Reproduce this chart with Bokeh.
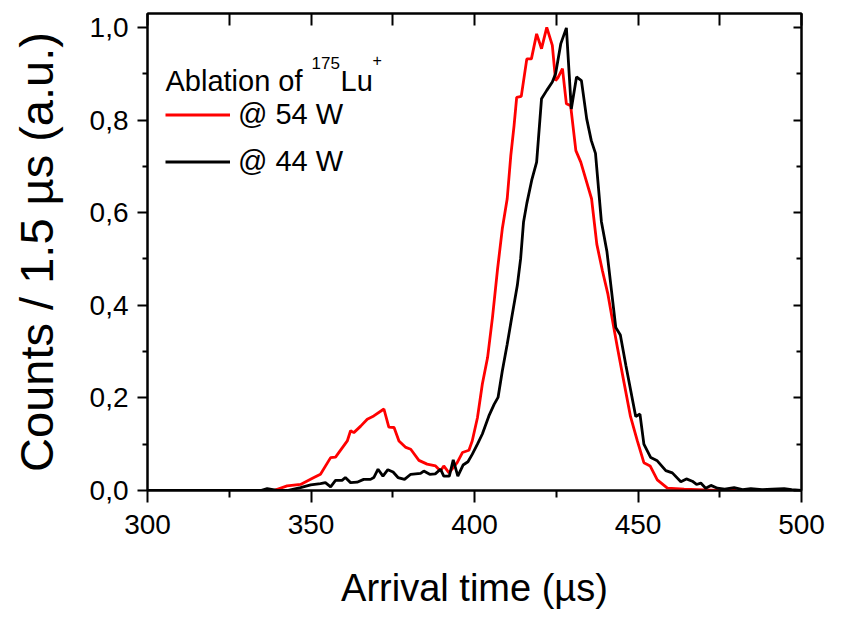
from bokeh.plotting import figure
from bokeh.models import (Range1d, LinearAxis, FixedTicker, CustomJSTickFormatter,
                          Legend, LegendItem, Label)
from bokeh.embed import file_html
from bokeh.resources import INLINE

# ---- data ----
x_54w = [300.0, 338.6, 342.7, 346.8, 350.9, 352.9, 356.0, 357.5, 361.1, 362.1, 363.1,
         365.2, 367.2, 369.2, 372.3, 373.8, 375.4, 376.9, 379.0, 380.5, 383.0, 385.5,
         388.1, 389.6, 390.6, 392.2, 394.7, 396.3, 398.3, 399.3, 400.9, 402.4, 404.0,
         405.5, 407.0, 408.5, 410.0, 411.1, 412.1, 412.9, 414.3, 416.0, 417.4, 419.0,
         420.5, 422.1, 423.8, 424.8, 425.5, 426.9, 428.1, 429.4, 431.0, 432.5, 435.8,
         437.4, 439.1, 440.8, 442.5, 443.7, 445.7, 447.7, 449.8, 451.8, 453.7, 455.9,
         459.0, 464.1, 474.3, 480.0]
y_54w = [0.0, 0.0, 0.010, 0.013, 0.028, 0.035, 0.071, 0.072, 0.107, 0.129, 0.125,
         0.139, 0.154, 0.161, 0.176, 0.137, 0.136, 0.107, 0.093, 0.089, 0.065, 0.057,
         0.053, 0.042, 0.053, 0.038, 0.060, 0.082, 0.087, 0.107, 0.157, 0.230, 0.287,
         0.374, 0.475, 0.565, 0.630, 0.723, 0.788, 0.849, 0.851, 0.932, 0.932, 0.986,
         0.954, 1.000, 0.961, 0.885, 0.891, 0.911, 0.835, 0.831, 0.734, 0.709, 0.630,
         0.532, 0.475, 0.424, 0.356, 0.309, 0.234, 0.160, 0.107, 0.060, 0.053, 0.023,
         0.005, 0.003, 0.0, 0.0]

x_44w = [300.0, 334.6, 336.6, 339.7, 342.7, 346.8, 349.9, 352.9, 354.4, 356.0, 357.5,
         359.5, 360.5, 362.1, 364.1, 366.1, 368.2, 369.2, 370.5, 372.0, 373.5, 375.1,
         376.6, 378.6, 380.5, 383.5, 384.5, 386.3, 388.0, 389.6, 390.6, 392.3, 393.5,
         394.9, 396.5, 398.0, 399.3, 400.9, 402.4, 404.4, 406.0, 407.2, 408.5, 410.0,
         411.4, 413.1, 414.1, 415.0, 416.0, 417.5, 419.0, 420.5, 422.1, 423.8, 424.8,
         426.4, 428.1, 429.6, 431.2, 432.7, 434.3, 435.7, 437.0, 438.8, 440.5, 441.9,
         443.2, 444.6, 446.3, 447.8, 449.3, 450.6, 451.8, 453.9, 455.9, 458.5, 460.5,
         463.1, 464.8, 466.6, 467.9, 469.2, 470.7, 472.3, 474.3, 476.5, 479.4, 482.0,
         484.5, 488.0, 491.0, 494.7, 497.0, 500.0]
y_44w = [0.0, 0.0, 0.004, 0.0, 0.0, 0.006, 0.012, 0.015, 0.017, 0.008, 0.022,
         0.022, 0.028, 0.017, 0.018, 0.024, 0.024, 0.028, 0.046, 0.031, 0.045, 0.040,
         0.028, 0.024, 0.035, 0.037, 0.042, 0.035, 0.036, 0.046, 0.031, 0.031, 0.066,
         0.031, 0.055, 0.062, 0.078, 0.100, 0.122, 0.161, 0.186, 0.201, 0.258, 0.316,
         0.374, 0.443, 0.500, 0.580, 0.620, 0.670, 0.709, 0.846, 0.864, 0.882, 0.900,
         0.965, 0.999, 0.824, 0.893, 0.885, 0.803, 0.756, 0.728, 0.581, 0.516, 0.431,
         0.352, 0.336, 0.270, 0.215, 0.160, 0.165, 0.100, 0.071, 0.064, 0.043, 0.038,
         0.019, 0.025, 0.020, 0.013, 0.016, 0.005, 0.011, 0.005, 0.003, 0.006, 0.002,
         0.004, 0.002, 0.003, 0.004, 0.002, 0.0]

x_ticks = [300, 350, 400, 450, 500]
x_minor = [325, 375, 425, 475]
y_ticks = [0.0, 0.2, 0.4, 0.6, 0.8, 1.0]
y_minor = [0.1, 0.3, 0.5, 0.7, 0.9]
labels = ["@ 54 W", "@ 44 W"]

SANS = "Liberation Sans"

p = figure(width=841, height=622, output_backend="svg", toolbar_location=None,
           x_range=Range1d(300, 500), y_range=Range1d(0, 1.03),
           min_border_left=147, min_border_right=40, min_border_top=13,
           min_border_bottom=132, x_axis_location=None, y_axis_location=None)
p.grid.visible = False
p.outline_line_color = "black"
p.outline_line_width = 2
p.background_fill_color = "white"
p.border_fill_color = "white"

r54 = p.line(x_54w, y_54w, line_color="#ff0000", line_width=2.8)
r44 = p.line(x_44w, y_44w, line_color="black", line_width=2.8)

fmt = CustomJSTickFormatter(code="return tick.toFixed(1).replace('.', ',');")
blank = CustomJSTickFormatter(code="return '';")

xb = LinearAxis(ticker=FixedTicker(ticks=x_ticks, minor_ticks=x_minor),
                axis_label="Arrival time (µs)")
yl = LinearAxis(ticker=FixedTicker(ticks=y_ticks, minor_ticks=y_minor),
                formatter=fmt, axis_label="Counts / 1.5 µs (a.u.)")
xt = LinearAxis(ticker=FixedTicker(ticks=x_ticks, minor_ticks=x_minor), formatter=blank)
yr = LinearAxis(ticker=FixedTicker(ticks=y_ticks, minor_ticks=y_minor), formatter=blank)

for ax in (xb, yl, xt, yr):
    ax.axis_line_width = 2
    ax.major_tick_line_width = 2
    ax.minor_tick_line_width = 2
    ax.axis_line_color = "black"
    ax.major_tick_line_color = "black"
    ax.minor_tick_line_color = "black"

xb.major_tick_in, xb.major_tick_out = 0, 12
xb.minor_tick_in, xb.minor_tick_out = 0, 7
xb.major_label_text_font = SANS
xb.major_label_text_font_size = "28px"
xb.major_label_text_color = "black"
xb.major_label_standoff = 12
xb.axis_label_text_font = SANS
xb.axis_label_text_font_size = "38px"
xb.axis_label_text_font_style = "normal"
xb.axis_label_text_color = "black"
xb.axis_label_standoff = 30

yl.major_tick_in, yl.major_tick_out = 0, 10
yl.minor_tick_in, yl.minor_tick_out = 0, 5
yl.major_label_text_font = SANS
yl.major_label_text_font_size = "28px"
yl.major_label_text_color = "black"
yl.major_label_standoff = 9
yl.axis_label_text_font = SANS
yl.axis_label_text_font_size = "47px"
yl.axis_label_text_font_style = "normal"
yl.axis_label_text_color = "black"
yl.axis_label_standoff = 24

xt.major_tick_in, xt.major_tick_out = 12, 0
xt.minor_tick_in, xt.minor_tick_out = 12, 0
xt.major_label_standoff = 0
yr.major_tick_in, yr.major_tick_out = 8, 0
yr.minor_tick_in, yr.minor_tick_out = 5, 0
yr.major_label_standoff = 0

p.add_layout(xb, "below")
p.add_layout(yl, "left")
p.add_layout(xt, "above")
p.add_layout(yr, "right")

legend = Legend(items=[LegendItem(label=labels[0], renderers=[r54]),
                       LegendItem(label=labels[1], renderers=[r44])],
                location=(18, 305), orientation="vertical")
legend.border_line_color = None
legend.background_fill_alpha = 0
legend.padding = 0
legend.margin = 0
legend.spacing = 0
legend.glyph_width = 65
legend.glyph_height = 47
legend.label_height = 47
legend.label_standoff = 8
legend.label_text_font = SANS
legend.label_text_font_size = "29px"
legend.label_text_color = "black"
legend.label_text_baseline = "middle"
p.add_layout(legend, "center")

# legend title with superscripts
title_parts = [("Ablation of ", 18, 410, "29px"), ("175", 164, 428, "17px"),
               ("Lu", 193, 410, "29px"), ("+", 225, 431, "16px")]
for txt, sx, sy, fs in title_parts:
    p.add_layout(Label(x=sx, y=sy, x_units="screen", y_units="screen", text=txt,
                       text_font=SANS, text_font_size=fs, text_color="black",
                       text_baseline="alphabetic", text_align="left"))

open("out.html", "w").write(file_html(p, INLINE))
